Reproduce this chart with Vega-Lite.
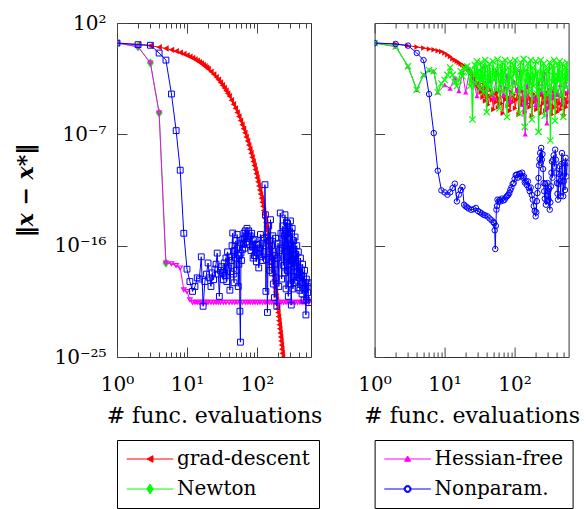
{
"$schema": "https://vega.github.io/schema/vega-lite/v6.json",
"background": "white",
"padding": {"left": 14, "top": 12, "right": 0, "bottom": 0},
"bounds": "flush",
"spacing": 63.6,
"config": {
  "view": {"stroke": "#333", "strokeWidth": 1},
  "axis": {"labelFont": "DejaVu Serif", "labelFontSize": 20, "labelColor": "#000", "titleFont": "DejaVu Serif", "titleFontSize": 22, "titleColor": "#000", "titleFontWeight": "normal", "domain": false, "ticks": false, "grid": true, "gridColor": "#444", "gridOpacity": 1, "gridWidth": 1, "labelFlush": false, "labelOverlap": false},
  "legend": {"labelFont": "DejaVu Serif", "labelFontSize": 20, "labelColor": "#000", "labelLimit": 0, "strokeColor": "#000", "padding": 9, "symbolSize": 100, "labelOffset": 31, "rowPadding": 10}
},
"datasets": {
"L": [
{"s":"grad-descent","x":1,"y":2.4},{"s":"grad-descent","x":2,"y":1.86},{"s":"grad-descent","x":3,"y":1.45},{"s":"grad-descent","x":4,"y":1.12},{"s":"grad-descent","x":5,"y":0.87},{"s":"grad-descent","x":6,"y":0.676},{"s":"grad-descent","x":7,"y":0.525},{"s":"grad-descent","x":8,"y":0.407},{"s":"grad-descent","x":9,"y":0.316},{"s":"grad-descent","x":10,"y":0.245},{"s":"grad-descent","x":11,"y":0.19},{"s":"grad-descent","x":12,"y":0.148},{"s":"grad-descent","x":13,"y":0.115},{"s":"grad-descent","x":14,"y":0.0891},{"s":"grad-descent","x":15,"y":0.0692},{"s":"grad-descent","x":16,"y":0.0537},{"s":"grad-descent","x":17,"y":0.0417},{"s":"grad-descent","x":18,"y":0.0324},{"s":"grad-descent","x":19,"y":0.0251},{"s":"grad-descent","x":20,"y":0.0195},{"s":"grad-descent","x":22,"y":0.0117},{"s":"grad-descent","x":24,"y":0.00708},{"s":"grad-descent","x":26,"y":0.00427},{"s":"grad-descent","x":28,"y":0.00257},{"s":"grad-descent","x":30,"y":0.00155},{"s":"grad-descent","x":32,"y":9.33e-4},{"s":"grad-descent","x":34,"y":5.62e-4},{"s":"grad-descent","x":36,"y":3.39e-4},{"s":"grad-descent","x":38,"y":2.04e-4},{"s":"grad-descent","x":40,"y":1.23e-4},{"s":"grad-descent","x":43,"y":5.75e-5},{"s":"grad-descent","x":46,"y":2.69e-5},{"s":"grad-descent","x":49,"y":1.26e-5},{"s":"grad-descent","x":52,"y":5.89e-6},{"s":"grad-descent","x":55,"y":2.75e-6},{"s":"grad-descent","x":58,"y":1.29e-6},{"s":"grad-descent","x":61,"y":6.03e-7},{"s":"grad-descent","x":64,"y":2.82e-7},{"s":"grad-descent","x":67,"y":1.32e-7},{"s":"grad-descent","x":70,"y":6.17e-8},{"s":"grad-descent","x":73,"y":2.88e-8},{"s":"grad-descent","x":76,"y":1.35e-8},{"s":"grad-descent","x":79,"y":6.31e-9},{"s":"grad-descent","x":82,"y":2.95e-9},{"s":"grad-descent","x":85,"y":1.38e-9},{"s":"grad-descent","x":88,"y":6.46e-10},{"s":"grad-descent","x":91,"y":3.02e-10},{"s":"grad-descent","x":94,"y":1.41e-10},{"s":"grad-descent","x":97,"y":6.61e-11},{"s":"grad-descent","x":100,"y":3.09e-11},{"s":"grad-descent","x":103,"y":1.45e-11},{"s":"grad-descent","x":106,"y":6.76e-12},{"s":"grad-descent","x":109,"y":3.16e-12},{"s":"grad-descent","x":112,"y":1.48e-12},{"s":"grad-descent","x":115,"y":6.92e-13},{"s":"grad-descent","x":118,"y":3.24e-13},{"s":"grad-descent","x":121,"y":1.51e-13},{"s":"grad-descent","x":124,"y":7.08e-14},{"s":"grad-descent","x":127,"y":3.31e-14},{"s":"grad-descent","x":130,"y":1.55e-14},{"s":"grad-descent","x":133,"y":7.24e-15},{"s":"grad-descent","x":136,"y":3.39e-15},{"s":"grad-descent","x":139,"y":1.58e-15},{"s":"grad-descent","x":142,"y":7.41e-16},{"s":"grad-descent","x":145,"y":3.47e-16},{"s":"grad-descent","x":148,"y":1.62e-16},{"s":"grad-descent","x":151,"y":7.59e-17},{"s":"grad-descent","x":154,"y":3.55e-17},{"s":"grad-descent","x":157,"y":1.66e-17},{"s":"grad-descent","x":160,"y":7.76e-18},{"s":"grad-descent","x":163,"y":3.63e-18},{"s":"grad-descent","x":166,"y":1.7e-18},{"s":"grad-descent","x":169,"y":7.94e-19},{"s":"grad-descent","x":172,"y":3.72e-19},{"s":"grad-descent","x":175,"y":1.74e-19},{"s":"grad-descent","x":178,"y":8.13e-20},{"s":"grad-descent","x":181,"y":3.8e-20},{"s":"grad-descent","x":184,"y":1.78e-20},{"s":"grad-descent","x":187,"y":8.32e-21},{"s":"grad-descent","x":190,"y":3.89e-21},{"s":"grad-descent","x":193,"y":1.82e-21},{"s":"grad-descent","x":196,"y":8.51e-22},{"s":"grad-descent","x":199,"y":3.98e-22},{"s":"grad-descent","x":202,"y":1.86e-22},{"s":"grad-descent","x":205,"y":8.71e-23},{"s":"grad-descent","x":208,"y":4.07e-23},{"s":"grad-descent","x":211,"y":1.91e-23},{"s":"grad-descent","x":214,"y":8.91e-24},{"s":"grad-descent","x":217,"y":4.17e-24},{"s":"grad-descent","x":220,"y":1.95e-24},{"s":"grad-descent","x":223,"y":9.12e-25},{"s":"grad-descent","x":226,"y":4.27e-25},{"s":"grad-descent","x":229,"y":2e-25},{"s":"grad-descent","x":232,"y":9.33e-26},{"s":"grad-descent","x":235,"y":4.37e-26},
{"s":"Newton","x":1,"y":2.4},{"s":"Newton","x":2,"y":1.2},{"s":"Newton","x":3,"y":0.0589},{"s":"Newton","x":4,"y":5.25e-6},{"s":"Newton","x":5,"y":3.98e-18},
{"s":"Hessian-free","x":1,"y":2.4},{"s":"Hessian-free","x":2,"y":1.2},{"s":"Hessian-free","x":3,"y":0.0589},{"s":"Hessian-free","x":4,"y":5.25e-6},{"s":"Hessian-free","x":5,"y":3.98e-18},{"s":"Hessian-free","x":6,"y":3.47e-18},{"s":"Hessian-free","x":7,"y":2.51e-18},{"s":"Hessian-free","x":8,"y":1.58e-18},{"s":"Hessian-free","x":9,"y":2.75e-20},{"s":"Hessian-free","x":10,"y":2e-20},{"s":"Hessian-free","x":11,"y":4.27e-21},{"s":"Hessian-free","x":12,"y":2.63e-21},{"s":"Hessian-free","x":13,"y":2.63e-21},{"s":"Hessian-free","x":14,"y":2.63e-21},{"s":"Hessian-free","x":15,"y":2.63e-21},{"s":"Hessian-free","x":16,"y":2.63e-21},{"s":"Hessian-free","x":17,"y":2.63e-21},{"s":"Hessian-free","x":18,"y":2.63e-21},{"s":"Hessian-free","x":19,"y":2.63e-21},{"s":"Hessian-free","x":20,"y":2.63e-21},{"s":"Hessian-free","x":22,"y":2.63e-21},{"s":"Hessian-free","x":24,"y":2.63e-21},{"s":"Hessian-free","x":26,"y":2.63e-21},{"s":"Hessian-free","x":28,"y":2.63e-21},{"s":"Hessian-free","x":30,"y":2.63e-21},{"s":"Hessian-free","x":33,"y":2.63e-21},{"s":"Hessian-free","x":36,"y":2.63e-21},{"s":"Hessian-free","x":40,"y":2.63e-21},{"s":"Hessian-free","x":44,"y":2.63e-21},{"s":"Hessian-free","x":48,"y":2.63e-21},{"s":"Hessian-free","x":52,"y":2.63e-21},{"s":"Hessian-free","x":57,"y":2.63e-21},{"s":"Hessian-free","x":62,"y":2.63e-21},{"s":"Hessian-free","x":68,"y":2.63e-21},{"s":"Hessian-free","x":74,"y":2.63e-21},{"s":"Hessian-free","x":80,"y":2.63e-21},{"s":"Hessian-free","x":87,"y":2.63e-21},{"s":"Hessian-free","x":94,"y":2.63e-21},{"s":"Hessian-free","x":102,"y":2.63e-21},{"s":"Hessian-free","x":110,"y":2.63e-21},{"s":"Hessian-free","x":120,"y":2.63e-21},{"s":"Hessian-free","x":130,"y":2.63e-21},{"s":"Hessian-free","x":140,"y":2.63e-21},{"s":"Hessian-free","x":150,"y":2.63e-21},{"s":"Hessian-free","x":162,"y":2.63e-21},{"s":"Hessian-free","x":175,"y":2.63e-21},{"s":"Hessian-free","x":190,"y":2.63e-21},{"s":"Hessian-free","x":205,"y":2.63e-21},{"s":"Hessian-free","x":220,"y":2.63e-21},{"s":"Hessian-free","x":240,"y":2.63e-21},{"s":"Hessian-free","x":260,"y":2.63e-21},{"s":"Hessian-free","x":280,"y":2.63e-21},{"s":"Hessian-free","x":300,"y":2.63e-21},{"s":"Hessian-free","x":325,"y":2.63e-21},{"s":"Hessian-free","x":350,"y":2.63e-21},{"s":"Hessian-free","x":380,"y":2.63e-21},{"s":"Hessian-free","x":410,"y":2.63e-21},{"s":"Hessian-free","x":440,"y":2.63e-21},{"s":"Hessian-free","x":470,"y":2.63e-21},{"s":"Hessian-free","x":500,"y":2.63e-21},{"s":"Hessian-free","x":550,"y":2.63e-21},
{"s":"Nonparam.","x":1,"y":2.4},{"s":"Nonparam.","x":2,"y":1.78},{"s":"Nonparam.","x":3,"y":1.58},{"s":"Nonparam.","x":4,"y":0.372},{"s":"Nonparam.","x":5,"y":0.1},{"s":"Nonparam.","x":6,"y":1.82e-4},{"s":"Nonparam.","x":7,"y":2e-7},{"s":"Nonparam.","x":8,"y":1.26e-10},{"s":"Nonparam.","x":9,"y":1e-15},{"s":"Nonparam.","x":10,"y":1.26e-18},{"s":"Nonparam.","x":11,"y":1.26e-19},{"s":"Nonparam.","x":12,"y":2e-20},{"s":"Nonparam.","x":13,"y":5.01e-20},{"s":"Nonparam.","x":14,"y":2.51e-19},{"s":"Nonparam.","x":15,"y":2e-19},{"s":"Nonparam.","x":16,"y":1.26e-17},{"s":"Nonparam.","x":17,"y":1.26e-21},{"s":"Nonparam.","x":18,"y":1.26e-19},{"s":"Nonparam.","x":19,"y":5.01e-19},{"s":"Nonparam.","x":20,"y":3.98e-18},{"s":"Nonparam.","x":21,"y":2.51e-19},{"s":"Nonparam.","x":22,"y":5.01e-20},{"s":"Nonparam.","x":23,"y":6.31e-19},{"s":"Nonparam.","x":24,"y":1.78e-19},{"s":"Nonparam.","x":25,"y":1.26e-18},{"s":"Nonparam.","x":26,"y":3.16e-18},{"s":"Nonparam.","x":27,"y":2.51e-17},{"s":"Nonparam.","x":28,"y":5.01e-19},{"s":"Nonparam.","x":29,"y":7.94e-21},{"s":"Nonparam.","x":30,"y":1e-18},{"s":"Nonparam.","x":31,"y":2e-18},{"s":"Nonparam.","x":32,"y":6.31e-19},{"s":"Nonparam.","x":33,"y":1.78e-19},{"s":"Nonparam.","x":34,"y":3.98e-18},{"s":"Nonparam.","x":35,"y":3.98e-19},{"s":"Nonparam.","x":36,"y":1e-17},{"s":"Nonparam.","x":37,"y":1.26e-19},{"s":"Nonparam.","x":38,"y":3.16e-17},{"s":"Nonparam.","x":39,"y":1.58e-18},{"s":"Nonparam.","x":40,"y":1.26e-17},{"s":"Nonparam.","x":41,"y":2.51e-20},{"s":"Nonparam.","x":42,"y":7.94e-19},{"s":"Nonparam.","x":43,"y":6.31e-18},{"s":"Nonparam.","x":44,"y":1e-16},{"s":"Nonparam.","x":45,"y":1.05e-15},{"s":"Nonparam.","x":46,"y":5.01e-19},{"s":"Nonparam.","x":47,"y":1e-19},{"s":"Nonparam.","x":48,"y":3.98e-17},{"s":"Nonparam.","x":49,"y":1e-17},{"s":"Nonparam.","x":50,"y":2.51e-16},{"s":"Nonparam.","x":51,"y":1e-18},{"s":"Nonparam.","x":52,"y":7.94e-16},{"s":"Nonparam.","x":53,"y":6.31e-17},{"s":"Nonparam.","x":54,"y":5.01e-20},{"s":"Nonparam.","x":55,"y":3.16e-18},{"s":"Nonparam.","x":56,"y":1.58e-17},{"s":"Nonparam.","x":57,"y":5.01e-22},{"s":"Nonparam.","x":58,"y":1.58e-24},{"s":"Nonparam.","x":59,"y":2.51e-17},{"s":"Nonparam.","x":60,"y":6.31e-18},{"s":"Nonparam.","x":61,"y":1.58e-16},{"s":"Nonparam.","x":62,"y":5.01e-17},{"s":"Nonparam.","x":63,"y":3.16e-16},{"s":"Nonparam.","x":64,"y":1.26e-16},{"s":"Nonparam.","x":65,"y":1e-15},{"s":"Nonparam.","x":66,"y":3.98e-16},{"s":"Nonparam.","x":67,"y":6.31e-17},{"s":"Nonparam.","x":68,"y":1.58e-15},{"s":"Nonparam.","x":69,"y":6.31e-16},{"s":"Nonparam.","x":70,"y":2e-16},{"s":"Nonparam.","x":72,"y":2.51e-15},{"s":"Nonparam.","x":74,"y":5.01e-16},{"s":"Nonparam.","x":76,"y":1.58e-15},{"s":"Nonparam.","x":78,"y":1.26e-16},{"s":"Nonparam.","x":80,"y":6.31e-16},{"s":"Nonparam.","x":82,"y":3.98e-17},{"s":"Nonparam.","x":84,"y":1e-15},{"s":"Nonparam.","x":86,"y":7.94e-17},{"s":"Nonparam.","x":88,"y":1e-17},{"s":"Nonparam.","x":90,"y":2.51e-16},{"s":"Nonparam.","x":92,"y":1.58e-17},{"s":"Nonparam.","x":94,"y":3.16e-16},{"s":"Nonparam.","x":96,"y":5.01e-17},{"s":"Nonparam.","x":98,"y":5.01e-18},{"s":"Nonparam.","x":100,"y":1.26e-16},{"s":"Nonparam.","x":103,"y":2.51e-17},{"s":"Nonparam.","x":106,"y":1.58e-18},{"s":"Nonparam.","x":109,"y":6.31e-17},{"s":"Nonparam.","x":112,"y":7.94e-16},{"s":"Nonparam.","x":115,"y":1.26e-17},{"s":"Nonparam.","x":118,"y":1.58e-16},{"s":"Nonparam.","x":121,"y":6.31e-18},{"s":"Nonparam.","x":124,"y":1e-16},{"s":"Nonparam.","x":127,"y":3.98e-16},{"s":"Nonparam.","x":130,"y":8.51e-12},{"s":"Nonparam.","x":132,"y":3.16e-14},{"s":"Nonparam.","x":134,"y":2e-20},{"s":"Nonparam.","x":136,"y":7.94e-18},{"s":"Nonparam.","x":138,"y":5.01e-16},{"s":"Nonparam.","x":141,"y":3.98e-22},{"s":"Nonparam.","x":144,"y":3.16e-17},{"s":"Nonparam.","x":147,"y":3.98e-15},{"s":"Nonparam.","x":150,"y":1e-18},{"s":"Nonparam.","x":153,"y":2.51e-16},{"s":"Nonparam.","x":156,"y":1.26e-14},{"s":"Nonparam.","x":159,"y":5.01e-18},{"s":"Nonparam.","x":162,"y":1e-16},{"s":"Nonparam.","x":165,"y":6.31e-19},{"s":"Nonparam.","x":168,"y":6.31e-16},{"s":"Nonparam.","x":171,"y":7.94e-20},{"s":"Nonparam.","x":174,"y":1.58e-17},{"s":"Nonparam.","x":177,"y":6.31e-21},{"s":"Nonparam.","x":180,"y":3.16e-18},{"s":"Nonparam.","x":184,"y":3.98e-16},{"s":"Nonparam.","x":188,"y":2.51e-19},{"s":"Nonparam.","x":192,"y":1.26e-21},{"s":"Nonparam.","x":196,"y":1e-17},{"s":"Nonparam.","x":200,"y":1.58e-16},{"s":"Nonparam.","x":205,"y":5.01e-20},{"s":"Nonparam.","x":210,"y":3.98e-17},{"s":"Nonparam.","x":215,"y":4.37e-14},{"s":"Nonparam.","x":220,"y":1e-15},{"s":"Nonparam.","x":225,"y":2e-19},{"s":"Nonparam.","x":230,"y":6.31e-17},{"s":"Nonparam.","x":235,"y":3.98e-15},{"s":"Nonparam.","x":240,"y":2.51e-18},{"s":"Nonparam.","x":245,"y":6.31e-16},{"s":"Nonparam.","x":248,"y":6.31e-19},{"s":"Nonparam.","x":251,"y":3.16e-14},{"s":"Nonparam.","x":254,"y":1.58e-15},{"s":"Nonparam.","x":257,"y":1e-16},{"s":"Nonparam.","x":260,"y":3.16e-20},{"s":"Nonparam.","x":263,"y":7.94e-15},{"s":"Nonparam.","x":266,"y":1e-15},{"s":"Nonparam.","x":270,"y":1e-18},{"s":"Nonparam.","x":273,"y":6.31e-15},{"s":"Nonparam.","x":277,"y":1.26e-17},{"s":"Nonparam.","x":280,"y":7.94e-21},{"s":"Nonparam.","x":284,"y":3.98e-16},{"s":"Nonparam.","x":287,"y":3.16e-15},{"s":"Nonparam.","x":291,"y":3.16e-18},{"s":"Nonparam.","x":294,"y":1e-16},{"s":"Nonparam.","x":298,"y":7.94e-20},{"s":"Nonparam.","x":301,"y":1e-14},{"s":"Nonparam.","x":305,"y":5.01e-17},{"s":"Nonparam.","x":309,"y":1.58e-21},{"s":"Nonparam.","x":312,"y":1e-15},{"s":"Nonparam.","x":315,"y":6.31e-18},{"s":"Nonparam.","x":318,"y":2.51e-15},{"s":"Nonparam.","x":322,"y":5.01e-17},{"s":"Nonparam.","x":326,"y":3.16e-20},{"s":"Nonparam.","x":330,"y":3.16e-19},{"s":"Nonparam.","x":334,"y":2.51e-16},{"s":"Nonparam.","x":338,"y":2e-18},{"s":"Nonparam.","x":342,"y":1.58e-17},{"s":"Nonparam.","x":346,"y":1e-19},{"s":"Nonparam.","x":350,"y":5.01e-16},{"s":"Nonparam.","x":355,"y":3.98e-18},{"s":"Nonparam.","x":360,"y":2e-17},{"s":"Nonparam.","x":365,"y":1.58e-19},{"s":"Nonparam.","x":370,"y":1e-16},{"s":"Nonparam.","x":375,"y":7.94e-19},{"s":"Nonparam.","x":380,"y":5.01e-18},{"s":"Nonparam.","x":385,"y":3.98e-20},{"s":"Nonparam.","x":390,"y":3.16e-17},{"s":"Nonparam.","x":395,"y":2.51e-19},{"s":"Nonparam.","x":402,"y":1.58e-18},{"s":"Nonparam.","x":410,"y":2.51e-20},{"s":"Nonparam.","x":418,"y":1e-17},{"s":"Nonparam.","x":425,"y":3.98e-19},{"s":"Nonparam.","x":432,"y":1e-18},{"s":"Nonparam.","x":440,"y":1.26e-20},{"s":"Nonparam.","x":448,"y":3.16e-18},{"s":"Nonparam.","x":455,"y":1e-19},{"s":"Nonparam.","x":462,"y":3.16e-19},{"s":"Nonparam.","x":470,"y":3.98e-21},{"s":"Nonparam.","x":478,"y":1e-18},{"s":"Nonparam.","x":485,"y":3.98e-20},{"s":"Nonparam.","x":492,"y":1e-19},{"s":"Nonparam.","x":500,"y":2.51e-22},{"s":"Nonparam.","x":508,"y":2e-19},{"s":"Nonparam.","x":515,"y":3.98e-21},{"s":"Nonparam.","x":522,"y":5.01e-20},{"s":"Nonparam.","x":530,"y":1.58e-20},{"s":"Nonparam.","x":538,"y":1e-19},{"s":"Nonparam.","x":545,"y":2.51e-21}
],
"R": [
{"s":"grad-descent","x":1,"y":2.4},{"s":"grad-descent","x":2,"y":2.0},{"s":"grad-descent","x":3,"y":1.48},{"s":"grad-descent","x":4,"y":1.15},{"s":"grad-descent","x":5,"y":0.955},{"s":"grad-descent","x":6,"y":0.794},{"s":"grad-descent","x":7,"y":0.692},{"s":"grad-descent","x":8,"y":0.575},{"s":"grad-descent","x":9,"y":0.501},{"s":"grad-descent","x":10,"y":0.38},{"s":"grad-descent","x":11,"y":0.275},{"s":"grad-descent","x":12,"y":0.2},{"s":"grad-descent","x":13,"y":0.126},{"s":"grad-descent","x":14,"y":0.1},{"s":"grad-descent","x":15,"y":0.0794},{"s":"grad-descent","x":16,"y":0.0631},{"s":"grad-descent","x":17,"y":0.0513},{"s":"grad-descent","x":18,"y":0.0417},{"s":"grad-descent","x":19,"y":0.0339},{"s":"grad-descent","x":20,"y":0.0275},{"s":"grad-descent","x":21,"y":0.0224},{"s":"grad-descent","x":22,"y":0.017},{"s":"grad-descent","x":23,"y":0.0126},{"s":"grad-descent","x":24,"y":0.00891},{"s":"grad-descent","x":25,"y":0.00631},{"s":"grad-descent","x":26,"y":0.00398},{"s":"grad-descent","x":27,"y":0.00251},{"s":"grad-descent","x":28,"y":0.00178},{"s":"grad-descent","x":29,"y":0.00112},{"s":"grad-descent","x":30,"y":7.94e-4},{"s":"grad-descent","x":31,"y":5.01e-4},{"s":"grad-descent","x":32,"y":1.26e-3},{"s":"grad-descent","x":33,"y":2.51e-4},{"s":"grad-descent","x":34,"y":6.31e-4},{"s":"grad-descent","x":35,"y":1e-4},{"s":"grad-descent","x":36,"y":3.16e-4},{"s":"grad-descent","x":37,"y":1e-3},{"s":"grad-descent","x":38,"y":5.01e-5},{"s":"grad-descent","x":39,"y":2e-4},{"s":"grad-descent","x":40,"y":5.01e-4},{"s":"grad-descent","x":42,"y":2.51e-5},{"s":"grad-descent","x":44,"y":1.26e-4},{"s":"grad-descent","x":46,"y":3.98e-4},{"s":"grad-descent","x":48,"y":6.31e-5},{"s":"grad-descent","x":50,"y":1e-5},{"s":"grad-descent","x":52,"y":1.58e-4},{"s":"grad-descent","x":54,"y":3.98e-5},{"s":"grad-descent","x":56,"y":2.51e-4},{"s":"grad-descent","x":58,"y":1.58e-5},{"s":"grad-descent","x":60,"y":7.94e-5},{"s":"grad-descent","x":62,"y":3.16e-4},{"s":"grad-descent","x":65,"y":3.16e-5},{"s":"grad-descent","x":68,"y":5.01e-6},{"s":"grad-descent","x":71,"y":1.26e-4},{"s":"grad-descent","x":74,"y":6.31e-5},{"s":"grad-descent","x":77,"y":5.01e-4},{"s":"grad-descent","x":80,"y":2e-5},{"s":"grad-descent","x":83,"y":1e-4},{"s":"grad-descent","x":86,"y":7.94e-6},{"s":"grad-descent","x":90,"y":2.51e-4},{"s":"grad-descent","x":94,"y":3.98e-5},{"s":"grad-descent","x":98,"y":1.58e-4},{"s":"grad-descent","x":102,"y":1.26e-5},{"s":"grad-descent","x":106,"y":6.31e-5},{"s":"grad-descent","x":110,"y":3.98e-4},{"s":"grad-descent","x":115,"y":3.98e-6},{"s":"grad-descent","x":120,"y":1e-4},{"s":"grad-descent","x":125,"y":2.51e-5},{"s":"grad-descent","x":130,"y":3.16e-4},{"s":"grad-descent","x":135,"y":5.01e-5},{"s":"grad-descent","x":140,"y":6.31e-6},{"s":"grad-descent","x":146,"y":1.58e-4},{"s":"grad-descent","x":152,"y":3.16e-5},{"s":"grad-descent","x":158,"y":6.31e-4},{"s":"grad-descent","x":164,"y":1.58e-5},{"s":"grad-descent","x":170,"y":7.94e-5},{"s":"grad-descent","x":177,"y":3.16e-6},{"s":"grad-descent","x":184,"y":2e-4},{"s":"grad-descent","x":191,"y":3.98e-5},{"s":"grad-descent","x":198,"y":1.26e-4},{"s":"grad-descent","x":206,"y":1e-5},{"s":"grad-descent","x":214,"y":6.31e-5},{"s":"grad-descent","x":222,"y":3.98e-4},{"s":"grad-descent","x":230,"y":2e-5},{"s":"grad-descent","x":239,"y":5.01e-6},{"s":"grad-descent","x":248,"y":1.58e-4},{"s":"grad-descent","x":257,"y":3.16e-5},{"s":"grad-descent","x":266,"y":1e-4},{"s":"grad-descent","x":276,"y":7.94e-6},{"s":"grad-descent","x":286,"y":2.51e-4},{"s":"grad-descent","x":296,"y":3.98e-5},{"s":"grad-descent","x":307,"y":1.26e-5},{"s":"grad-descent","x":318,"y":1.26e-4},{"s":"grad-descent","x":330,"y":2.51e-5},{"s":"grad-descent","x":342,"y":3.98e-6},{"s":"grad-descent","x":355,"y":7.94e-5},{"s":"grad-descent","x":368,"y":3.16e-4},{"s":"grad-descent","x":382,"y":1.58e-5},{"s":"grad-descent","x":396,"y":6.31e-5},{"s":"grad-descent","x":410,"y":6.31e-6},{"s":"grad-descent","x":425,"y":1.58e-4},{"s":"grad-descent","x":440,"y":3.16e-5},{"s":"grad-descent","x":456,"y":1e-5},{"s":"grad-descent","x":472,"y":1.26e-4},{"s":"grad-descent","x":490,"y":2.51e-5},{"s":"grad-descent","x":508,"y":3.16e-6},{"s":"grad-descent","x":527,"y":7.94e-5},{"s":"grad-descent","x":546,"y":1.58e-5},{"s":"grad-descent","x":566,"y":2e-4},{"s":"grad-descent","x":586,"y":3.98e-5},
{"s":"Hessian-free","x":1,"y":2.4},{"s":"Hessian-free","x":2,"y":1.26},{"s":"Hessian-free","x":3,"y":0.0316},{"s":"Hessian-free","x":4,"y":3.98e-4},{"s":"Hessian-free","x":5,"y":6.31e-3},{"s":"Hessian-free","x":6,"y":0.0158},{"s":"Hessian-free","x":7,"y":0.0126},{"s":"Hessian-free","x":8,"y":2.51e-4},{"s":"Hessian-free","x":10,"y":1e-3},{"s":"Hessian-free","x":12,"y":5.01e-4},{"s":"Hessian-free","x":14,"y":3.98e-3},{"s":"Hessian-free","x":16,"y":3.16e-4},{"s":"Hessian-free","x":18,"y":0.01},{"s":"Hessian-free","x":20,"y":2.51e-4},{"s":"Hessian-free","x":23,"y":0.02},{"s":"Hessian-free","x":26,"y":1.58e-3},{"s":"Hessian-free","x":29,"y":1.26e-4},{"s":"Hessian-free","x":32,"y":5.01e-3},{"s":"Hessian-free","x":36,"y":0.0316},{"s":"Hessian-free","x":40,"y":3.98e-4},{"s":"Hessian-free","x":45,"y":2.51e-3},{"s":"Hessian-free","x":50,"y":7.94e-5},{"s":"Hessian-free","x":56,"y":0.0126},{"s":"Hessian-free","x":62,"y":1e-3},{"s":"Hessian-free","x":70,"y":1.58e-4},{"s":"Hessian-free","x":78,"y":6.31e-3},{"s":"Hessian-free","x":87,"y":5.01e-5},{"s":"Hessian-free","x":97,"y":2e-3},{"s":"Hessian-free","x":108,"y":3.16e-4},{"s":"Hessian-free","x":120,"y":0.0158},{"s":"Hessian-free","x":133,"y":2.51e-5},{"s":"Hessian-free","x":142,"y":1e-7},{"s":"Hessian-free","x":150,"y":7.94e-4},{"s":"Hessian-free","x":165,"y":3.98e-3},{"s":"Hessian-free","x":182,"y":1.26e-4},{"s":"Hessian-free","x":200,"y":2.51e-5},{"s":"Hessian-free","x":220,"y":1.26e-3},{"s":"Hessian-free","x":242,"y":2.51e-4},{"s":"Hessian-free","x":265,"y":0.01},{"s":"Hessian-free","x":290,"y":7.94e-7},{"s":"Hessian-free","x":315,"y":5.01e-4},{"s":"Hessian-free","x":345,"y":1e-4},{"s":"Hessian-free","x":375,"y":3.16e-3},{"s":"Hessian-free","x":410,"y":1.58e-4},{"s":"Hessian-free","x":450,"y":1e-3},{"s":"Hessian-free","x":490,"y":3.98e-5},{"s":"Hessian-free","x":535,"y":2e-3},{"s":"Hessian-free","x":580,"y":3.16e-4},
{"s":"Newton","x":1,"y":2.4},{"s":"Newton","x":2,"y":1.26},{"s":"Newton","x":3,"y":0.0316},{"s":"Newton","x":4,"y":3.98e-4},{"s":"Newton","x":5,"y":6.31e-3},{"s":"Newton","x":6,"y":0.0158},{"s":"Newton","x":7,"y":0.0126},{"s":"Newton","x":8,"y":2.51e-4},{"s":"Newton","x":9,"y":1.26e-3},{"s":"Newton","x":10,"y":2.51e-3},{"s":"Newton","x":11,"y":6.31e-3},{"s":"Newton","x":12,"y":0.0251},{"s":"Newton","x":13,"y":6.31e-3},{"s":"Newton","x":14,"y":1.58e-3},{"s":"Newton","x":15,"y":7.94e-4},{"s":"Newton","x":16,"y":2.51e-3},{"s":"Newton","x":17,"y":0.0126},{"s":"Newton","x":18,"y":5.01e-3},{"s":"Newton","x":19,"y":0.0251},{"s":"Newton","x":20,"y":0.017},{"s":"Newton","x":21,"y":0.0316},{"s":"Newton","x":22,"y":0.01},{"s":"Newton","x":23,"y":7.94e-4},{"s":"Newton","x":24,"y":0.0158},{"s":"Newton","x":25,"y":1.58e-6},{"s":"Newton","x":26,"y":6.31e-3},{"s":"Newton","x":27,"y":0.0398},{"s":"Newton","x":28,"y":1.26e-3},{"s":"Newton","x":29,"y":0.0794},{"s":"Newton","x":30,"y":3.16e-3},{"s":"Newton","x":31,"y":0.0158},{"s":"Newton","x":32,"y":5.01e-4},{"s":"Newton","x":33,"y":0.0631},{"s":"Newton","x":34,"y":2e-3},{"s":"Newton","x":35,"y":0.0251},{"s":"Newton","x":36,"y":2.51e-4},{"s":"Newton","x":37,"y":7.94e-3},{"s":"Newton","x":38,"y":0.1},{"s":"Newton","x":39,"y":1.26e-3},{"s":"Newton","x":40,"y":6.31e-6},{"s":"Newton","x":41,"y":0.0316},{"s":"Newton","x":42,"y":3.98e-3},{"s":"Newton","x":43,"y":6.31e-4},{"s":"Newton","x":44,"y":0.0501},{"s":"Newton","x":45,"y":0.01},{"s":"Newton","x":47,"y":2e-4},{"s":"Newton","x":49,"y":0.0794},{"s":"Newton","x":51,"y":2.51e-3},{"s":"Newton","x":53,"y":0.02},{"s":"Newton","x":55,"y":3.98e-4},{"s":"Newton","x":57,"y":0.112},{"s":"Newton","x":59,"y":6.31e-3},{"s":"Newton","x":61,"y":1.26e-5},{"s":"Newton","x":63,"y":0.0316},{"s":"Newton","x":65,"y":1.26e-3},{"s":"Newton","x":67,"y":0.0631},{"s":"Newton","x":69,"y":3.16e-4},{"s":"Newton","x":71,"y":0.01},{"s":"Newton","x":73,"y":0.1},{"s":"Newton","x":75,"y":2e-3},{"s":"Newton","x":78,"y":2.51e-6},{"s":"Newton","x":81,"y":0.0251},{"s":"Newton","x":84,"y":6.31e-4},{"s":"Newton","x":87,"y":0.0794},{"s":"Newton","x":90,"y":3.98e-3},{"s":"Newton","x":93,"y":1.58e-4},{"s":"Newton","x":96,"y":0.0398},{"s":"Newton","x":99,"y":7.94e-3},{"s":"Newton","x":102,"y":0.1},{"s":"Newton","x":106,"y":1e-3},{"s":"Newton","x":110,"y":0.02},{"s":"Newton","x":114,"y":3.16e-3},{"s":"Newton","x":118,"y":5.01e-6},{"s":"Newton","x":122,"y":0.0631},{"s":"Newton","x":126,"y":5.01e-4},{"s":"Newton","x":130,"y":0.01},{"s":"Newton","x":135,"y":0.126},{"s":"Newton","x":140,"y":3.98e-7},{"s":"Newton","x":145,"y":0.0158},{"s":"Newton","x":150,"y":1.58e-3},{"s":"Newton","x":155,"y":0.0501},{"s":"Newton","x":160,"y":2.51e-4},{"s":"Newton","x":165,"y":6.31e-3},{"s":"Newton","x":170,"y":0.1},{"s":"Newton","x":176,"y":1.58e-6},{"s":"Newton","x":182,"y":0.0251},{"s":"Newton","x":188,"y":7.94e-4},{"s":"Newton","x":194,"y":5.01e-3},{"s":"Newton","x":200,"y":0.0794},{"s":"Newton","x":207,"y":2e-4},{"s":"Newton","x":214,"y":0.0126},{"s":"Newton","x":220,"y":1.58e-7},{"s":"Newton","x":228,"y":2.51e-3},{"s":"Newton","x":236,"y":0.1},{"s":"Newton","x":244,"y":3.98e-4},{"s":"Newton","x":252,"y":0.01},{"s":"Newton","x":260,"y":0.0501},{"s":"Newton","x":268,"y":3.16e-6},{"s":"Newton","x":277,"y":1.26e-3},{"s":"Newton","x":286,"y":0.02},{"s":"Newton","x":295,"y":1.58e-4},{"s":"Newton","x":305,"y":0.0126},{"s":"Newton","x":315,"y":0.0631},{"s":"Newton","x":324,"y":3.16e-8},{"s":"Newton","x":335,"y":5.01e-4},{"s":"Newton","x":345,"y":0.0316},{"s":"Newton","x":356,"y":1.58e-3},{"s":"Newton","x":367,"y":0.1},{"s":"Newton","x":378,"y":1.26e-6},{"s":"Newton","x":390,"y":7.94e-3},{"s":"Newton","x":402,"y":3.16e-4},{"s":"Newton","x":414,"y":0.0398},{"s":"Newton","x":427,"y":2e-3},{"s":"Newton","x":440,"y":0.0794},{"s":"Newton","x":454,"y":1.26e-4},{"s":"Newton","x":468,"y":0.01},{"s":"Newton","x":482,"y":0.0501},{"s":"Newton","x":497,"y":2.51e-6},{"s":"Newton","x":512,"y":3.16e-3},{"s":"Newton","x":528,"y":0.0251},{"s":"Newton","x":544,"y":6.31e-4},{"s":"Newton","x":560,"y":0.0631},{"s":"Newton","x":576,"y":2.51e-3},{"s":"Newton","x":590,"y":0.0158},
{"s":"Nonparam.","x":1,"y":2.4},{"s":"Nonparam.","x":2,"y":2.0},{"s":"Nonparam.","x":3,"y":1.48},{"s":"Nonparam.","x":4,"y":0.38},{"s":"Nonparam.","x":5,"y":0.1},{"s":"Nonparam.","x":6,"y":1.78e-4},{"s":"Nonparam.","x":7,"y":1.26e-7},{"s":"Nonparam.","x":8,"y":1.15e-10},{"s":"Nonparam.","x":9,"y":2.95e-12},{"s":"Nonparam.","x":10,"y":2.04e-12},{"s":"Nonparam.","x":11,"y":1.32e-12},{"s":"Nonparam.","x":12,"y":2.04e-12},{"s":"Nonparam.","x":13,"y":4.57e-12},{"s":"Nonparam.","x":14,"y":1.02e-11},{"s":"Nonparam.","x":15,"y":3.8e-13},{"s":"Nonparam.","x":16,"y":1.32e-12},{"s":"Nonparam.","x":17,"y":3.16e-12},{"s":"Nonparam.","x":18,"y":5.5e-12},{"s":"Nonparam.","x":19,"y":2.04e-13},{"s":"Nonparam.","x":20,"y":1.51e-13},{"s":"Nonparam.","x":21,"y":1.26e-13},{"s":"Nonparam.","x":22,"y":1e-13},{"s":"Nonparam.","x":24,"y":7.94e-14},{"s":"Nonparam.","x":26,"y":8.91e-14},{"s":"Nonparam.","x":28,"y":1.12e-13},{"s":"Nonparam.","x":30,"y":6.31e-14},{"s":"Nonparam.","x":32,"y":5.01e-14},{"s":"Nonparam.","x":34,"y":3.98e-14},{"s":"Nonparam.","x":36,"y":3.16e-14},{"s":"Nonparam.","x":38,"y":2.82e-14},{"s":"Nonparam.","x":41,"y":2.34e-14},{"s":"Nonparam.","x":44,"y":1.58e-14},{"s":"Nonparam.","x":47,"y":1.12e-14},{"s":"Nonparam.","x":50,"y":7.94e-15},{"s":"Nonparam.","x":51,"y":6.76e-15},{"s":"Nonparam.","x":52,"y":1.74e-15},{"s":"Nonparam.","x":53,"y":5.37e-17},{"s":"Nonparam.","x":54,"y":3.98e-15},{"s":"Nonparam.","x":55,"y":8.13e-14},{"s":"Nonparam.","x":56,"y":1.58e-13},{"s":"Nonparam.","x":57,"y":5.25e-13},{"s":"Nonparam.","x":59,"y":3.55e-13},{"s":"Nonparam.","x":61,"y":5.01e-13},{"s":"Nonparam.","x":63,"y":3.8e-13},{"s":"Nonparam.","x":66,"y":6.31e-13},{"s":"Nonparam.","x":69,"y":4.47e-13},{"s":"Nonparam.","x":72,"y":5.25e-13},{"s":"Nonparam.","x":75,"y":7.94e-13},{"s":"Nonparam.","x":78,"y":1e-12},{"s":"Nonparam.","x":81,"y":1.26e-12},{"s":"Nonparam.","x":84,"y":1.78e-12},{"s":"Nonparam.","x":87,"y":3.16e-12},{"s":"Nonparam.","x":90,"y":5.01e-12},{"s":"Nonparam.","x":94,"y":1e-11},{"s":"Nonparam.","x":97,"y":1.15e-11},{"s":"Nonparam.","x":100,"y":2.51e-11},{"s":"Nonparam.","x":104,"y":5.01e-11},{"s":"Nonparam.","x":107,"y":5.5e-11},{"s":"Nonparam.","x":111,"y":3.16e-11},{"s":"Nonparam.","x":115,"y":6.31e-11},{"s":"Nonparam.","x":120,"y":6.61e-11},{"s":"Nonparam.","x":124,"y":3.98e-11},{"s":"Nonparam.","x":128,"y":7.94e-11},{"s":"Nonparam.","x":132,"y":3.16e-11},{"s":"Nonparam.","x":136,"y":3.98e-11},{"s":"Nonparam.","x":140,"y":1.26e-11},{"s":"Nonparam.","x":145,"y":1.58e-11},{"s":"Nonparam.","x":150,"y":7.94e-12},{"s":"Nonparam.","x":155,"y":1.58e-11},{"s":"Nonparam.","x":160,"y":4.57e-12},{"s":"Nonparam.","x":165,"y":2.51e-12},{"s":"Nonparam.","x":170,"y":5.01e-12},{"s":"Nonparam.","x":176,"y":1.26e-12},{"s":"Nonparam.","x":182,"y":5.25e-13},{"s":"Nonparam.","x":188,"y":1.58e-13},{"s":"Nonparam.","x":194,"y":6.31e-14},{"s":"Nonparam.","x":200,"y":2.34e-14},{"s":"Nonparam.","x":204,"y":5.01e-14},{"s":"Nonparam.","x":208,"y":3.98e-13},{"s":"Nonparam.","x":212,"y":1.78e-12},{"s":"Nonparam.","x":216,"y":6.31e-12},{"s":"Nonparam.","x":220,"y":2.95e-11},{"s":"Nonparam.","x":224,"y":3.16e-10},{"s":"Nonparam.","x":228,"y":1e-9},{"s":"Nonparam.","x":232,"y":3.16e-9},{"s":"Nonparam.","x":236,"y":5.01e-10},{"s":"Nonparam.","x":240,"y":7.94e-9},{"s":"Nonparam.","x":245,"y":8.91e-10},{"s":"Nonparam.","x":250,"y":2.51e-9},{"s":"Nonparam.","x":255,"y":1.58e-10},{"s":"Nonparam.","x":260,"y":1.15e-11},{"s":"Nonparam.","x":265,"y":2.51e-12},{"s":"Nonparam.","x":270,"y":6.31e-13},{"s":"Nonparam.","x":275,"y":1e-11},{"s":"Nonparam.","x":280,"y":2.04e-13},{"s":"Nonparam.","x":289,"y":3.98e-13},{"s":"Nonparam.","x":295,"y":1.15e-11},{"s":"Nonparam.","x":300,"y":2.51e-12},{"s":"Nonparam.","x":306,"y":5.25e-13},{"s":"Nonparam.","x":312,"y":3.98e-12},{"s":"Nonparam.","x":318,"y":8.13e-14},{"s":"Nonparam.","x":324,"y":3.16e-13},{"s":"Nonparam.","x":330,"y":6.31e-12},{"s":"Nonparam.","x":336,"y":7.94e-11},{"s":"Nonparam.","x":342,"y":6.31e-10},{"s":"Nonparam.","x":348,"y":3.16e-11},{"s":"Nonparam.","x":355,"y":8.91e-10},{"s":"Nonparam.","x":362,"y":2e-9},{"s":"Nonparam.","x":370,"y":2.51e-10},{"s":"Nonparam.","x":380,"y":5.75e-9},{"s":"Nonparam.","x":388,"y":8.91e-10},{"s":"Nonparam.","x":395,"y":7.94e-11},{"s":"Nonparam.","x":403,"y":1.15e-11},{"s":"Nonparam.","x":410,"y":1.58e-12},{"s":"Nonparam.","x":418,"y":5.25e-13},{"s":"Nonparam.","x":425,"y":1e-11},{"s":"Nonparam.","x":432,"y":6.31e-11},{"s":"Nonparam.","x":440,"y":2.57e-10},{"s":"Nonparam.","x":448,"y":1.58e-11},{"s":"Nonparam.","x":456,"y":1e-12},{"s":"Nonparam.","x":465,"y":3.98e-10},{"s":"Nonparam.","x":475,"y":3.09e-9},{"s":"Nonparam.","x":485,"y":3.98e-11},{"s":"Nonparam.","x":495,"y":1e-12},{"s":"Nonparam.","x":505,"y":1.58e-11},{"s":"Nonparam.","x":515,"y":5.01e-10},{"s":"Nonparam.","x":525,"y":3.16e-12},{"s":"Nonparam.","x":537,"y":1.26e-9},{"s":"Nonparam.","x":550,"y":3.98e-11},{"s":"Nonparam.","x":565,"y":5.01e-10}
]
},
"resolve": {"scale": {"x": "independent", "y": "independent", "color": "independent"}, "legend": {"color": "independent"}},
"hconcat": [
{
  "width": 194, "height": 334,
  "data": {"name": "L"},
  "encoding": {
    "x": {"field": "x", "type": "quantitative", "scale": {"type": "log", "domain": [1, 591], "nice": false},
      "axis": {"title": "# func. evaluations", "values": [1,2,3,4,5,6,7,8,9,10,20,30,40,50,60,70,80,90,100,200,300,400,500], "labelExpr": "datum.value==1?'10⁰':datum.value==10?'10¹':datum.value==100?'10²':''", "labelPadding": 17, "titlePadding": 11,
        "gridDash": {"condition": {"test": "datum.value==1||datum.value==10||datum.value==100", "value": [10, 314]}, "value": [5, 324]}}},
    "y": {"field": "y", "type": "quantitative", "scale": {"type": "log", "domain": [1e-25, 100], "nice": false},
      "axis": {"title": "‖x − x*‖", "titleFontStyle": "italic", "titleFontWeight": "bold", "values": [1e-25, 1e-16, 1e-7, 100], "labelExpr": "datum.value<1e-20?'10⁻²⁵':datum.value<1e-10?'10⁻¹⁶':datum.value<1?'10⁻⁷':'10²'", "labelPadding": 11, "titlePadding": 16, "gridDash": [10, 174]}},
    "color": {"field": "s", "type": "nominal",
      "scale": {"domain": ["grad-descent", "Newton", "Hessian-free", "Nonparam."], "range": ["#ff0000", "#00ff00", "#ff00ff", "#0000ff"]},
      "legend": {"values": ["grad-descent", "Newton"], "title": null, "orient": "none", "legendX": 0, "legendY": 417,
        "encode": {"symbols": {"update": {
          "shape": {"signal": "datum.value==='grad-descent'?'M-1.86,0L7.46,0M2.2,0L3.4,-0.65L3.4,0.65Z':'M-1.86,0L7.46,0M2.8,-1L3.45,0L2.8,1L2.15,0Z'"},
          "fill": {"signal": "datum.value==='grad-descent'?'#ff0000':'#00ff00'"},
          "stroke": {"signal": "datum.value==='grad-descent'?'#ff0000':'#00ff00'"},
          "strokeWidth": {"value": 1}, "opacity": {"value": 1}, "fillOpacity": {"value": 1}, "strokeOpacity": {"value": 1}}}}}}
  },
  "layer": [
    {"transform": [{"filter": "datum.s==='grad-descent'"}], "mark": {"type": "line", "strokeWidth": 1, "clip": true}},
    {"transform": [{"filter": "datum.s==='grad-descent'"}], "mark": {"type": "point", "shape": "triangle-left", "filled": true, "opacity": 1, "size": 40, "clip": true}},
    {"transform": [{"filter": "datum.s==='Newton'"}], "mark": {"type": "line", "strokeWidth": 1, "clip": true}},
    {"transform": [{"filter": "datum.s==='Newton'"}], "mark": {"type": "point", "shape": "M0,-1L0.75,0L0,1L-0.75,0Z", "filled": true, "opacity": 1, "size": 90, "clip": true}},
    {"transform": [{"filter": "datum.s==='Hessian-free'"}], "mark": {"type": "line", "strokeWidth": 1, "clip": true}},
    {"transform": [{"filter": "datum.s==='Hessian-free'"}], "mark": {"type": "point", "shape": "triangle-down", "filled": false, "opacity": 1, "strokeWidth": 1.2, "size": 20, "clip": true}},
    {"transform": [{"filter": "datum.s==='Nonparam.'"}], "mark": {"type": "line", "strokeWidth": 1, "clip": true}},
    {"transform": [{"filter": "datum.s==='Nonparam.'"}], "mark": {"type": "point", "shape": "square", "filled": false, "opacity": 1, "strokeWidth": 1, "size": 34, "clip": true}}
  ]
},
{
  "width": 194, "height": 334,
  "data": {"name": "R"},
  "encoding": {
    "x": {"field": "x", "type": "quantitative", "scale": {"type": "log", "domain": [1, 591], "nice": false},
      "axis": {"title": "# func. evaluations", "values": [1,2,3,4,5,6,7,8,9,10,20,30,40,50,60,70,80,90,100,200,300,400,500], "labelExpr": "datum.value==1?'10⁰':datum.value==10?'10¹':datum.value==100?'10²':''", "labelPadding": 17, "titlePadding": 11,
        "gridDash": {"condition": {"test": "datum.value==1||datum.value==10||datum.value==100", "value": [10, 314]}, "value": [5, 324]}}},
    "y": {"field": "y", "type": "quantitative", "scale": {"type": "log", "domain": [1e-25, 100], "nice": false},
      "axis": {"title": null, "labels": false, "values": [1e-25, 1e-16, 1e-7, 100], "gridDash": [10, 174]}},
    "color": {"field": "s", "type": "nominal",
      "scale": {"domain": ["grad-descent", "Newton", "Hessian-free", "Nonparam."], "range": ["#ff0000", "#00ff00", "#ff00ff", "#0000ff"]},
      "legend": {"values": ["Hessian-free", "Nonparam."], "title": null, "orient": "none", "legendX": 0, "legendY": 417,
        "encode": {"symbols": {"update": {
          "shape": {"signal": "datum.value==='Hessian-free'?'M-1.86,0L7.46,0M2.8,-0.6L3.4,0.45L2.2,0.45Z':'M-1.86,0L2.1,0M3.5,0L7.46,0M2.1,0A0.7,0.7 0 1,1 3.5,0A0.7,0.7 0 1,1 2.1,0ZM2.35,0A0.45,0.45 0 1,0 3.25,0A0.45,0.45 0 1,0 2.35,0Z'"},
          "fill": {"signal": "datum.value==='Hessian-free'?'#ff00ff':'#ffffff'"},
          "stroke": {"signal": "datum.value==='Hessian-free'?'#ff00ff':'#0000ff'"},
          "strokeWidth": {"value": 1}, "opacity": {"value": 1}, "fillOpacity": {"value": 1}, "strokeOpacity": {"value": 1}}}}}}
  },
  "layer": [
    {"transform": [{"filter": "datum.s==='grad-descent'"}], "mark": {"type": "line", "strokeWidth": 1, "clip": true}},
    {"transform": [{"filter": "datum.s==='grad-descent'"}], "mark": {"type": "point", "shape": "triangle-right", "filled": true, "opacity": 1, "size": 30, "clip": true}},
    {"transform": [{"filter": "datum.s==='Hessian-free'"}], "mark": {"type": "line", "strokeWidth": 1, "clip": true}},
    {"transform": [{"filter": "datum.s==='Hessian-free'"}], "mark": {"type": "point", "shape": "triangle-up", "filled": true, "opacity": 1, "size": 28, "clip": true}},
    {"transform": [{"filter": "datum.s==='Newton'"}], "mark": {"type": "line", "strokeWidth": 1.2, "clip": true}},
    {"transform": [{"filter": "datum.s==='Newton'"}], "mark": {"type": "point", "shape": "M-1,-1L1,1M-1,1L1,-1", "filled": false, "opacity": 1, "strokeWidth": 1.2, "size": 40, "clip": true}},
    {"transform": [{"filter": "datum.s==='Nonparam.'"}], "mark": {"type": "line", "strokeWidth": 1, "clip": true}},
    {"transform": [{"filter": "datum.s==='Nonparam.'"}], "mark": {"type": "point", "shape": "circle", "filled": false, "opacity": 1, "strokeWidth": 1, "size": 30, "clip": true}}
  ]
}
]
}
